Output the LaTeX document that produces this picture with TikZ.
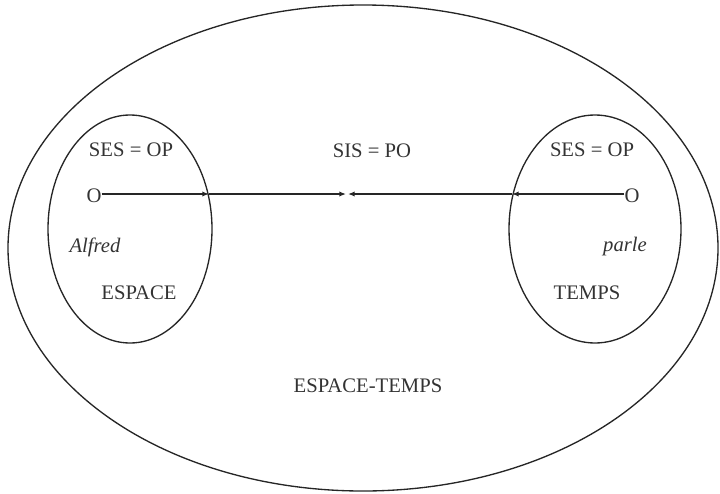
\documentclass[tikz,border=0pt]{standalone}
\usepackage{fontspec}
\setmainfont{Liberation Serif}
\usetikzlibrary{arrows.meta}
\begin{document}
\begin{tikzpicture}[x=0.75pt,y=-0.75pt,
  ring/.style={draw=black!85, line width=1pt},
  lbl/.style={font=\fontsize{15.5}{18}\selectfont, text=black!80, inner sep=0pt},
  lblit/.style={lbl, font=\fontsize{15.5}{18}\selectfont\itshape},
  conn/.style={draw=black!85, line width=1pt},
  tip/.style={-{Latex[length=5pt,width=4pt]}}
]
\useasboundingbox (0,0) rectangle (720,493);
% ellipses
\draw[ring] (363,248) ellipse [x radius=355, y radius=243];
\draw[ring] (130,229) ellipse [x radius=82, y radius=114];
\draw[ring] (595,229) ellipse [x radius=86, y radius=114];
% texts
\node[lbl] (sesL) at (131,150) {SES = OP};
\node[lbl] (sis)  at (372,151) {SIS = PO};
\node[lbl] (sesR) at (592,150) {SES = OP};
\node[lblit] (alfred) at (95,247) {Alfred};
\node[lblit] (parle) at (625,247) {parle};
\node[lbl] (espace) at (139,293) {ESPACE};
\node[lbl] (temps) at (587,293) {TEMPS};
\node[lbl] (et) at (368,386) {ESPACE-TEMPS};
% points
\node[lbl, anchor=center] (oL) at (94,196) {O};
\node[lbl, anchor=center] (oR) at (632,196) {O};
\coordinate (bL) at (209,194);
\coordinate (bR) at (512,194);
\coordinate (mL) at (346,194);
\coordinate (mR) at (348,194);
% connectors
\draw[conn, tip] (oL.east |- bL) -- (bL);
\draw[conn, tip] (bL) -- (mL);
\draw[conn, tip] (oR.west |- bR) -- (bR);
\draw[conn, tip] (bR) -- (mR);
\end{tikzpicture}
\end{document}
